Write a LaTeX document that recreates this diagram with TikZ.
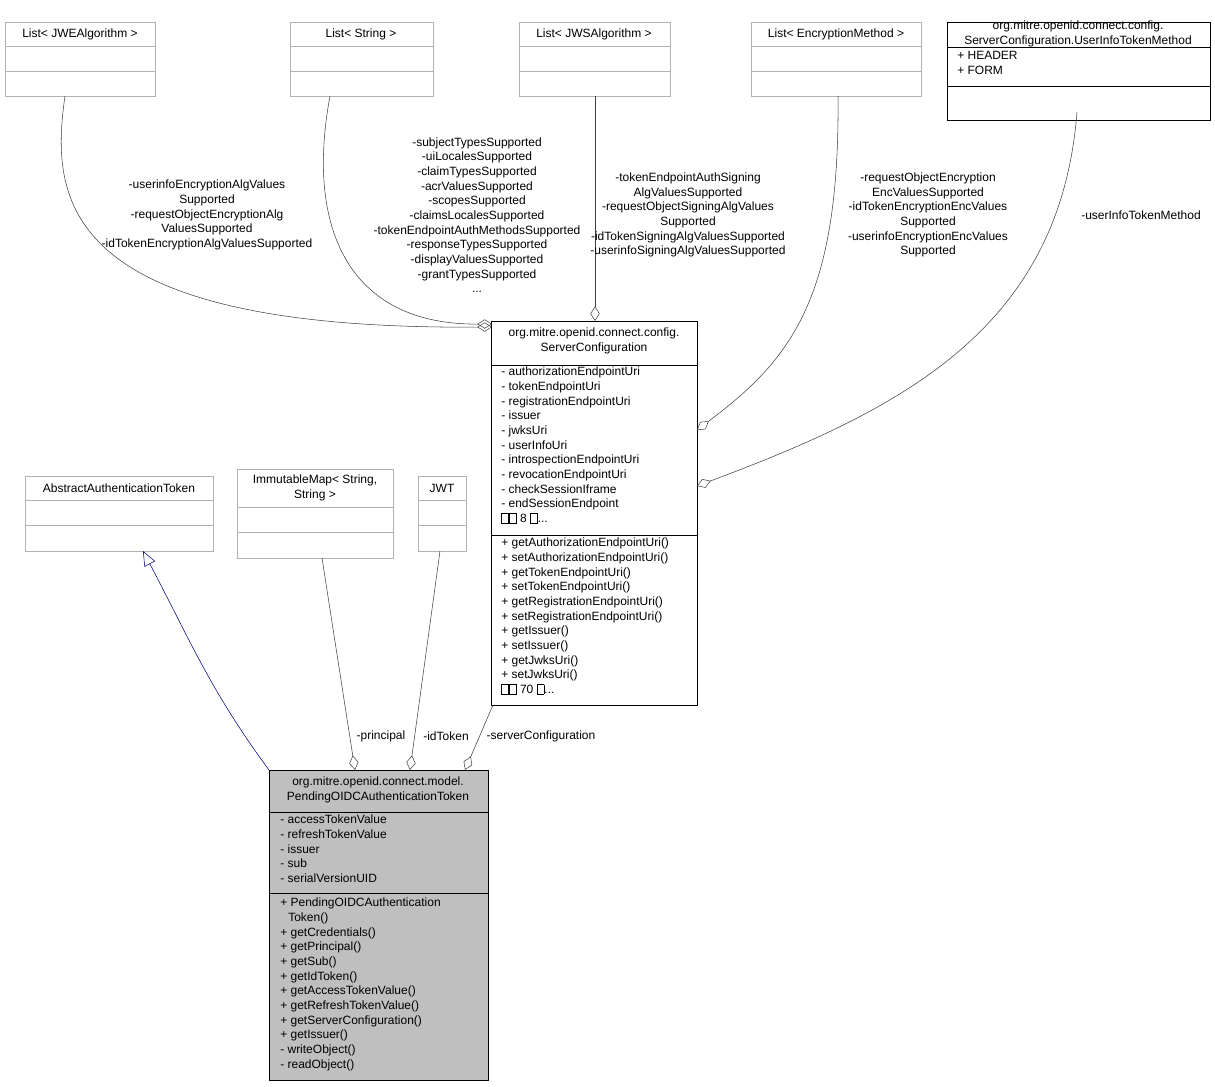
\documentclass[tikz,border=0pt]{standalone}
\usepackage{fontspec}
\setmainfont{Liberation Sans}
\usetikzlibrary{arrows.meta, fit}
\newcommand{\tofu}{{\fboxsep=0pt\fboxrule=0.4pt\fbox{\rule{0pt}{6.5pt}\hspace{5pt}}}}
\newcommand{\umlbox}[6]{% name, x1, y1, x2, y2, colour
  \path (#2,#3) coordinate (#1-a) (#4,#5) coordinate (#1-b);
  \node[fit=(#1-a)(#1-b), inner sep=0pt, draw=#6, #1style] (#1) {};}
\tikzset{
  txt/.style={font=\fontsize{9}{11}\selectfont, inner sep=0pt, align=center},
  ltxt/.style={txt, align=left, anchor=north west},
  agg/.style={draw=black!75, -{Diamond[open, length=11pt, width=7pt]}},
  gen/.style={draw=blue!50!black, -{Triangle[open, length=11pt, width=9pt]}},
  jwestyle/.style={}, strstyle/.style={}, jwsstyle/.style={}, encstyle/.style={},
  uitmstyle/.style={}, scstyle/.style={}, aatstyle/.style={}, imstyle/.style={},
  jwtstyle/.style={}, pendstyle/.style={fill=black!25}
}
\begin{document}
\begin{tikzpicture}[x=0.75pt, y=-0.75pt]
  \useasboundingbox (0,0) rectangle (1215,1087);
  % classes
  \umlbox{jwe}{5}{22}{155}{96}{black!30}
  \draw[black!30] (5,46) -- (155,46) (5,71) -- (155,71);
  \node[txt] at (80,34) {List< JWEAlgorithm >};
  \umlbox{str}{290}{22}{433}{96}{black!30}
  \draw[black!30] (290,46) -- (433,46) (290,71) -- (433,71);
  \node[txt] at (361,34) {List< String >};
  \umlbox{jws}{519}{22}{670}{96}{black!30}
  \draw[black!30] (519,46) -- (670,46) (519,71) -- (670,71);
  \node[txt] at (594,34) {List< JWSAlgorithm >};
  \umlbox{enc}{751}{22}{921}{96}{black!30}
  \draw[black!30] (751,46) -- (921,46) (751,71) -- (921,71);
  \node[txt] at (836,34) {List< EncryptionMethod >};
  \umlbox{uitm}{947}{22}{1210}{120}{black}
  \draw (947,47) -- (1210,47) (947,86) -- (1210,86);
  \node[txt] at (1078,34) {org.mitre.openid.connect.config.\\ServerConfiguration.UserInfoTokenMethod};
  \node[ltxt] at (957,51) {+ HEADER\\+ FORM};
  \umlbox{sc}{491}{321}{697}{705}{black}
  \draw (491,365) -- (697,365) (491,535) -- (697,535);
  \node[txt] at (594,341) {org.mitre.openid.connect.config.\\ServerConfiguration};
  \node[ltxt] at (501,367) {- authorizationEndpointUri\\- tokenEndpointUri\\- registrationEndpointUri\\- issuer\\- jwksUri\\- userInfoUri\\- introspectionEndpointUri\\- revocationEndpointUri\\- checkSessionIframe\\- endSessionEndpoint\\\tofu\tofu{} 8 \tofu...};
  \node[ltxt] at (501,538) {+ getAuthorizationEndpointUri()\\+ setAuthorizationEndpointUri()\\+ getTokenEndpointUri()\\+ setTokenEndpointUri()\\+ getRegistrationEndpointUri()\\+ setRegistrationEndpointUri()\\+ getIssuer()\\+ setIssuer()\\+ getJwksUri()\\+ setJwksUri()\\\tofu\tofu{} 70 \tofu...};
  \umlbox{aat}{25}{476}{213}{551}{black!30}
  \draw[black!30] (25,500) -- (213,500) (25,525) -- (213,525);
  \node[txt] at (119,488) {AbstractAuthenticationToken};
  \umlbox{im}{237}{469}{393}{558}{black!30}
  \draw[black!30] (237,507) -- (393,507) (237,532) -- (393,532);
  \node[txt] at (315,488) {ImmutableMap< String,\\String >};
  \umlbox{jwt}{418}{476}{466}{551}{black!30}
  \draw[black!30] (418,500) -- (466,500) (418,525) -- (466,525);
  \node[txt] at (442,488) {JWT};
  \umlbox{pend}{269}{770}{488}{1080}{black}
  \draw (269,812) -- (488,812) (269,893) -- (488,893);
  \node[txt] at (378,790) {org.mitre.openid.connect.model.\\PendingOIDCAuthenticationToken};
  \node[ltxt] at (280,815) {- accessTokenValue\\- refreshTokenValue\\- issuer\\- sub\\- serialVersionUID};
  \node[ltxt] at (280,898) {+ PendingOIDCAuthentication\\\hspace*{6pt}Token()\\+ getCredentials()\\+ getPrincipal()\\+ getSub()\\+ getIdToken()\\+ getAccessTokenValue()\\+ getRefreshTokenValue()\\+ getServerConfiguration()\\+ getIssuer()\\- writeObject()\\- readObject()};
  % connectors
  \draw[agg] (65,96) .. controls (50,200) and (60,330) .. (492,327);
  \draw[agg] (330,96) .. controls (305,230) and (350,325) .. (492,324);
  \draw[agg] (595,96) -- (595,321);
  \draw[agg] (838,96) .. controls (840,300) and (790,360) .. (697,430);
  \draw[agg] (1077,112) .. controls (1060,330) and (900,410) .. (697,486);
  \draw[gen] (269,770) .. controls (210,690) and (190,640) .. (143,551);
  \draw[agg] (322,558) -- (355,770);
  \draw[agg] (440,551) -- (410,770);
  \draw[agg] (493,705) -- (465,770);
  % labels
  \node[txt] at (207,215) {-userinfoEncryptionAlgValues\\Supported\\-requestObjectEncryptionAlg\\ValuesSupported\\-idTokenEncryptionAlgValuesSupported};
  \node[txt] at (477,215) {-subjectTypesSupported\\-uiLocalesSupported\\-claimTypesSupported\\-acrValuesSupported\\-scopesSupported\\-claimsLocalesSupported\\-tokenEndpointAuthMethodsSupported\\-responseTypesSupported\\-displayValuesSupported\\-grantTypesSupported\\...};
  \node[txt] at (688,215) {-tokenEndpointAuthSigning\\AlgValuesSupported\\-requestObjectSigningAlgValues\\Supported\\-idTokenSigningAlgValuesSupported\\-userinfoSigningAlgValuesSupported};
  \node[txt] at (928,215) {-requestObjectEncryption\\EncValuesSupported\\-idTokenEncryptionEncValues\\Supported\\-userinfoEncryptionEncValues\\Supported};
  \node[txt] at (1141,215) {-userInfoTokenMethod};
  \node[txt] at (381,736) {-principal};
  \node[txt] at (446,736) {-idToken};
  \node[txt] at (541,736) {-serverConfiguration};
\end{tikzpicture}
\end{document}
